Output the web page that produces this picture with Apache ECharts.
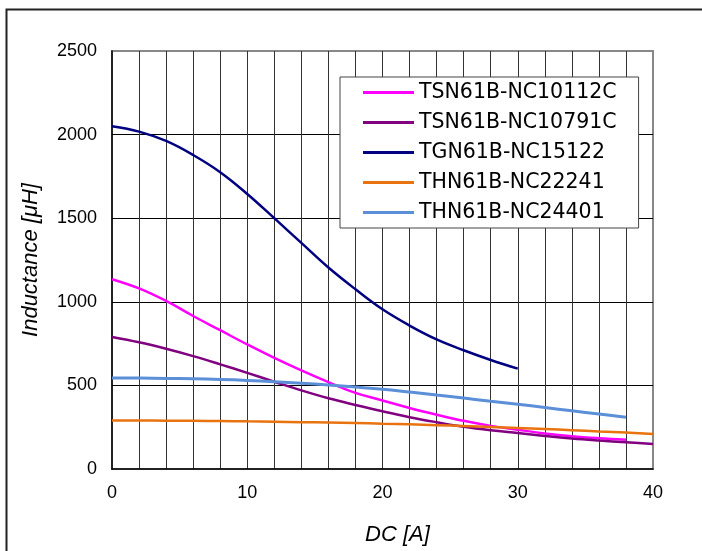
<!DOCTYPE html>
<html>
<head>
<meta charset="utf-8">
<script src="https://cdn.jsdelivr.net/npm/echarts@6/dist/echarts.min.js"></script>
<style>html,body{margin:0;padding:0;background:#fff;}#c{width:702px;height:551px;}</style>
</head>
<body>
<div id="c"></div>
<script>
const xs = [0,2,4,6,8,10,12,14,16,18,20,22,24,26,28,30,32,34,36,38,40];
const seriesNames = ['TSN61B-NC10112C','TSN61B-NC10791C','TGN61B-NC15122','THN61B-NC22241','THN61B-NC24401'];
const tsn10112 = [1135,1080,1005,915,830,745,665,590,520,455,410,365,325,288,258,235,213,196,184,175];
const tsn10791 = [790,758,719,675,626,575,522,470,423,383,345,310,280,253,232,215,198,182,170,160,150];
const tgn15122 = [2050,2018,1962,1878,1775,1645,1500,1352,1205,1075,955,858,775,710,652,600];
const thn22241 = [290,290,289,288,287,285,283,280,278,275,271,267,262,257,251,245,239,232,225,218,210];
const thn24401 = [545,544,542,540,536,530,522,513,502,490,477,460,442,424,405,387,368,348,329,310];
const colors = ['#FF00FF','#800080','#000080','#E8730F','#5B8FD8'];
const widths = [2.5,2.5,2.5,2.5,3];
const allValues = [tsn10112, tsn10791, tgn15122, thn22241, thn24401];

const chart = echarts.init(document.getElementById('c'), null, {renderer:'canvas'});
const series = allValues.map((vals, i) => ({
  name: seriesNames[i],
  type: 'line',
  smooth: 0.4,
  showSymbol: false,
  symbol: 'none',
  data: vals.map((v, k) => [xs[k], v]),
  lineStyle: {color: colors[i], width: widths[i]},
  itemStyle: {color: colors[i]},
  z: 3
}));

chart.setOption({
  animation: false,
  backgroundColor: '#fff',
  grid: {left: 112, top: 51, right: 49, bottom: 79, show: true, borderColor: '#888', borderWidth: 2, containLabel: false},
  legend: {
    orient: 'vertical',
    left: 340, top: 77,
    padding: [5, 22, 5, 23],
    itemWidth: 51, itemHeight: 3, itemGap: 9,
    icon: 'rect',
    backgroundColor: '#fff',
    borderColor: '#444', borderWidth: 1,
    textStyle: {fontFamily: 'DejaVu Sans', fontSize: 20.5, color: '#000', lineHeight: 20},
    data: seriesNames
  },
  xAxis: {
    type: 'value', min: 0, max: 40, interval: 2,
    name: 'DC [A]', nameLocation: 'middle', nameGap: 55,
    nameTextStyle: {fontFamily: 'Liberation Sans', fontStyle: 'italic', fontSize: 22, color: '#000', padding: [0,0,0,30]},
    axisLine: {lineStyle: {color: '#000', width: 1.5}},
    axisTick: {show: false},
    axisLabel: {fontFamily: 'Liberation Sans', fontSize: 18, color: '#000', margin: 15,
      formatter: v => (v % 10 === 0 ? String(v) : '')},
    splitLine: {show: true, showMinLine: false, showMaxLine: false, lineStyle: {color: '#333', width: 1}}
  },
  yAxis: {
    type: 'value', min: 0, max: 2500, interval: 500,
    name: 'Inductance [μH]', nameLocation: 'middle', nameGap: 70, nameRotate: 90,
    nameTextStyle: {fontFamily: 'Liberation Sans', fontStyle: 'italic', fontSize: 22, color: '#000'},
    axisLine: {show: true, lineStyle: {color: '#000', width: 1.5}},
    axisTick: {show: false},
    axisLabel: {fontFamily: 'Liberation Sans', fontSize: 18, color: '#000', margin: 15,
      formatter: v => String(v)},
    splitLine: {show: true, showMinLine: false, showMaxLine: false, lineStyle: {color: '#000', width: 1}}
  },
  graphic: [{
    type: 'rect', silent: true, z: -10,
    shape: {x: 6.5, y: 9.5, width: 800, height: 700},
    style: {fill: 'none', stroke: '#222', lineWidth: 2}
  }],
  series: series
});
</script>
</body>
</html>
